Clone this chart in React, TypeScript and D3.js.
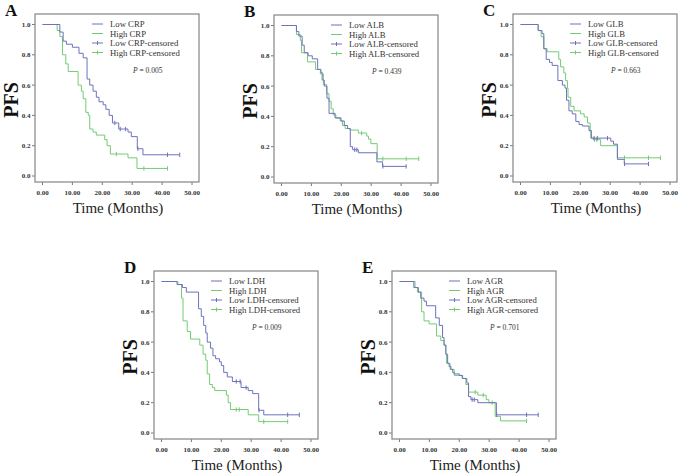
import React from 'react';
import * as d3 from 'd3';

// Kaplan-Meier PFS curves, five markers, low vs high group
const markers = ['CRP', 'ALB', 'GLB', 'LDH', 'AGR'];
const panelLetters = ['A', 'B', 'C', 'D', 'E'];
const pValues = ['0.005', '0.439', '0.663', '0.009', '0.701'];
const xTicks = [0, 10, 20, 30, 40, 50];
const yTicks = [0, 0.2, 0.4, 0.6, 0.8, 1.0];

// step events: [months, PFS after the drop]; censor arrays hold months
const lowCRP = [[5.8, 0.95], [6.9, 0.89], [8.0, 0.87], [10.0, 0.85], [12.2, 0.81], [13.6, 0.78], [14.9, 0.64], [15.8, 0.6], [16.9, 0.56], [18.0, 0.52], [18.9, 0.49], [20.3, 0.47], [21.2, 0.44], [22.3, 0.4], [23.4, 0.35], [25.5, 0.31], [28.6, 0.29], [29.7, 0.26], [31.7, 0.18], [33.6, 0.14]];
const lowCRPCensor = [24.2, 26.0, 27.8, 31.9, 41.8, 45.9];
const highCRP = [[4.9, 0.96], [5.8, 0.92], [6.7, 0.8], [7.8, 0.74], [8.6, 0.69], [11.9, 0.6], [13.0, 0.56], [13.6, 0.51], [14.5, 0.42], [15.3, 0.4], [15.8, 0.31], [16.9, 0.29], [18.0, 0.27], [20.8, 0.24], [21.6, 0.2], [22.7, 0.145], [28.6, 0.12], [31.6, 0.05]];
const highCRPCensor = [24.7, 33.9, 41.8];

const lowALB = [[5.0, 0.96], [5.8, 0.93], [6.9, 0.87], [7.6, 0.82], [8.9, 0.8], [10.3, 0.78], [12.1, 0.71], [13.2, 0.69], [13.6, 0.64], [14.3, 0.6], [15.2, 0.52], [15.9, 0.42], [17.9, 0.39], [19.9, 0.37], [21.0, 0.34], [22.1, 0.32], [23.0, 0.2], [23.8, 0.18], [25.7, 0.16], [31.9, 0.1], [33.8, 0.07]];
const lowALBCensor = [24.5, 25.2, 33.9, 41.7];
const highALB = [[5.0, 0.94], [6.3, 0.9], [6.7, 0.82], [8.7, 0.76], [11.4, 0.71], [13.0, 0.68], [14.0, 0.61], [15.1, 0.55], [15.9, 0.5], [16.6, 0.45], [17.3, 0.41], [18.2, 0.39], [19.6, 0.37], [20.4, 0.34], [21.3, 0.32], [22.9, 0.31], [25.7, 0.29], [28.5, 0.27], [29.1, 0.25], [29.9, 0.22], [32.0, 0.12]];
const highALBCensor = [26.8, 33.9, 41.7, 45.9];

const lowGLB = [[5.9, 0.96], [7.2, 0.94], [7.8, 0.84], [8.6, 0.77], [9.7, 0.75], [10.6, 0.73], [12.5, 0.63], [14.0, 0.6], [14.9, 0.58], [15.4, 0.5], [16.2, 0.43], [17.3, 0.41], [18.5, 0.36], [19.6, 0.34], [20.7, 0.33], [22.9, 0.3], [23.7, 0.25], [30.2, 0.23], [31.1, 0.21], [32.4, 0.11], [34.7, 0.08]];
const lowGLBCensor = [24.6, 25.7, 29.1, 34.8, 42.8];
const highGLB = [[5.9, 0.96], [6.9, 0.92], [7.8, 0.84], [8.9, 0.82], [12.8, 0.77], [13.4, 0.72], [14.5, 0.68], [15.1, 0.63], [15.7, 0.58], [15.9, 0.52], [16.8, 0.46], [17.9, 0.43], [20.1, 0.41], [21.3, 0.39], [22.4, 0.35], [23.3, 0.29], [23.5, 0.25], [24.4, 0.24], [26.8, 0.2], [32.4, 0.12]];
const highGLBCensor = [24.8, 25.5, 34.8, 42.8, 46.8];

const lowLDH = [[5.2, 0.98], [7.0, 0.96], [8.3, 0.93], [12.4, 0.82], [13.3, 0.77], [14.1, 0.71], [14.8, 0.66], [15.3, 0.6], [16.4, 0.56], [17.2, 0.51], [18.1, 0.49], [19.4, 0.47], [20.0, 0.445], [20.8, 0.4], [22.0, 0.37], [23.7, 0.34], [26.6, 0.3], [29.0, 0.28], [30.5, 0.26], [32.5, 0.15], [34.2, 0.12]];
const lowLDHCensor = [25.0, 26.3, 28.3, 32.6, 42.2, 46.1];
const highLDH = [[5.5, 0.98], [6.7, 0.89], [7.2, 0.74], [8.6, 0.67], [9.7, 0.62], [12.8, 0.58], [13.9, 0.52], [14.8, 0.48], [15.3, 0.39], [16.1, 0.32], [17.0, 0.3], [17.8, 0.28], [21.7, 0.25], [22.3, 0.2], [23.1, 0.155], [29.0, 0.12], [32.5, 0.075]];
const highLDHCensor = [25.0, 26.0, 34.2, 42.2];

const lowAGR = [[4.8, 0.96], [6.3, 0.93], [7.1, 0.89], [8.2, 0.87], [9.0, 0.84], [12.1, 0.76], [13.3, 0.71], [14.4, 0.63], [14.9, 0.58], [15.5, 0.52], [16.1, 0.46], [16.6, 0.44], [17.2, 0.42], [17.8, 0.4], [18.3, 0.39], [20.0, 0.38], [21.1, 0.36], [22.5, 0.33], [23.1, 0.24], [23.9, 0.22], [26.2, 0.2], [32.4, 0.12]];
const lowAGRCensor = [24.3, 25.0, 32.5, 42.5, 46.4];
const highAGR = [[5.2, 0.96], [6.0, 0.93], [7.4, 0.8], [8.2, 0.74], [9.9, 0.72], [12.4, 0.64], [13.8, 0.61], [14.9, 0.58], [15.5, 0.52], [15.7, 0.46], [16.9, 0.42], [18.3, 0.38], [20.9, 0.36], [22.2, 0.32], [23.1, 0.27], [26.2, 0.25], [29.0, 0.22], [29.9, 0.2], [32.0, 0.11], [33.8, 0.08]];
const highAGRCensor = [25.3, 28.0, 31.0, 42.5];

const lowSeries = [lowCRP, lowALB, lowGLB, lowLDH, lowAGR];
const lowCensors = [lowCRPCensor, lowALBCensor, lowGLBCensor, lowLDHCensor, lowAGRCensor];
const highSeries = [highCRP, highALB, highGLB, highLDH, highAGR];
const highCensors = [highCRPCensor, highALBCensor, highGLBCensor, highLDHCensor, highAGRCensor];

const BLUE = '#6d72bc';
const GREEN = '#74cb74';
const FONT = '"Liberation Serif", "Times New Roman", serif';
const W = 164;
const H = 168;

// value of the step curve at time t
const survAt = (events, t) => {
  let s = 1;
  events.forEach((e) => { if (e[0] <= t) s = e[1]; });
  return s;
};

function Panel({ i, left, top }) {
  const x = d3.scaleLinear().domain([0, 50]).range([7.5, 157]);
  const y = d3.scaleLinear().domain([0, 1]).range([162, 10.5]);
  const line = d3.line().x((d) => x(d[0])).y((d) => y(d[1])).curve(d3.curveStepAfter);

  const curve = (events, censor, color) => {
    const end = d3.max(censor);
    const pts = [[0, 1], ...events, [end, events[events.length - 1][1]]];
    return (
      <g>
        <path d={line(pts)} fill="none" stroke={color} strokeWidth={1} />
        {censor.map((c, k) => (
          <line key={k} x1={x(c)} x2={x(c)} y1={y(survAt(events, c)) - 2.2} y2={y(survAt(events, c)) + 2.2} stroke={color} strokeWidth={1} />
        ))}
      </g>
    );
  };

  const m = markers[i];
  const legend = [
    { label: `Low ${m}`, color: BLUE, tick: false },
    { label: `High ${m}`, color: GREEN, tick: false },
    { label: `Low ${m}-censored`, color: BLUE, tick: true },
    { label: `High ${m}-censored`, color: GREEN, tick: true },
  ];
  const legendY = [10, 19.5, 29, 38.5];

  return (
    <g transform={`translate(${left},${top})`}>
      <text x={-30} y={2} fontFamily={FONT} fontWeight="bold" fontSize={17} fill="#111">{panelLetters[i]}</text>
      <text transform={`translate(-17,86) rotate(-90)`} textAnchor="middle" fontFamily={FONT} fontWeight="bold" fontSize={20} fill="#111">PFS</text>
      <text x={83} y={199} textAnchor="middle" fontFamily={FONT} fontSize={15} fill="#222">Time (Months)</text>

      {yTicks.map((t) => (
        <g key={t}>
          <line x1={-3} x2={0} y1={y(t)} y2={y(t)} stroke="#555" strokeWidth={0.8} />
          <text x={-4.5} y={y(t)} dy="0.35em" textAnchor="end" fontFamily={FONT} fontWeight="bold" fontSize={7} fill="#333">{t.toFixed(1)}</text>
        </g>
      ))}
      {xTicks.map((t) => (
        <g key={t}>
          <line x1={x(t)} x2={x(t)} y1={H} y2={H + 3} stroke="#555" strokeWidth={0.8} />
          <text x={x(t)} y={H + 13} textAnchor="middle" fontFamily={FONT} fontWeight="bold" fontSize={7} fill="#333">{t.toFixed(2)}</text>
        </g>
      ))}

      {curve(highSeries[i], highCensors[i], GREEN)}
      {curve(lowSeries[i], lowCensors[i], BLUE)}

      {legend.map((d, k) => (
        <g key={k}>
          <line x1={57} x2={68} y1={legendY[k]} y2={legendY[k]} stroke={d.color} strokeWidth={1} />
          {d.tick && <line x1={62.5} x2={62.5} y1={legendY[k] - 2} y2={legendY[k] + 2} stroke={d.color} strokeWidth={1} />}
          <text x={75} y={legendY[k]} dy="0.35em" fontFamily={FONT} fontSize={8.7} fill="#333">{d.label}</text>
        </g>
      ))}
      <text x={98} y={56} dy="0.35em" fontFamily={FONT} fontSize={7.5} fill="#333">
        <tspan fontStyle="italic">P</tspan> = {pValues[i]}
      </text>

      <rect x={0} y={0} width={W} height={H} fill="none" stroke="#8e8e8e" strokeWidth={1.3} />
    </g>
  );
}

export default function App() {
  const positions = [[35, 14], [274, 15], [513, 14], [154, 271], [392, 271]];
  return (
    <svg width={680} height={475} style={{ position: 'absolute', left: 0, top: 0, background: '#fff' }}>
      <rect width={680} height={475} fill="#fff" />
      {positions.map((p, i) => (
        <Panel key={i} i={i} left={p[0]} top={p[1]} />
      ))}
    </svg>
  );
}
